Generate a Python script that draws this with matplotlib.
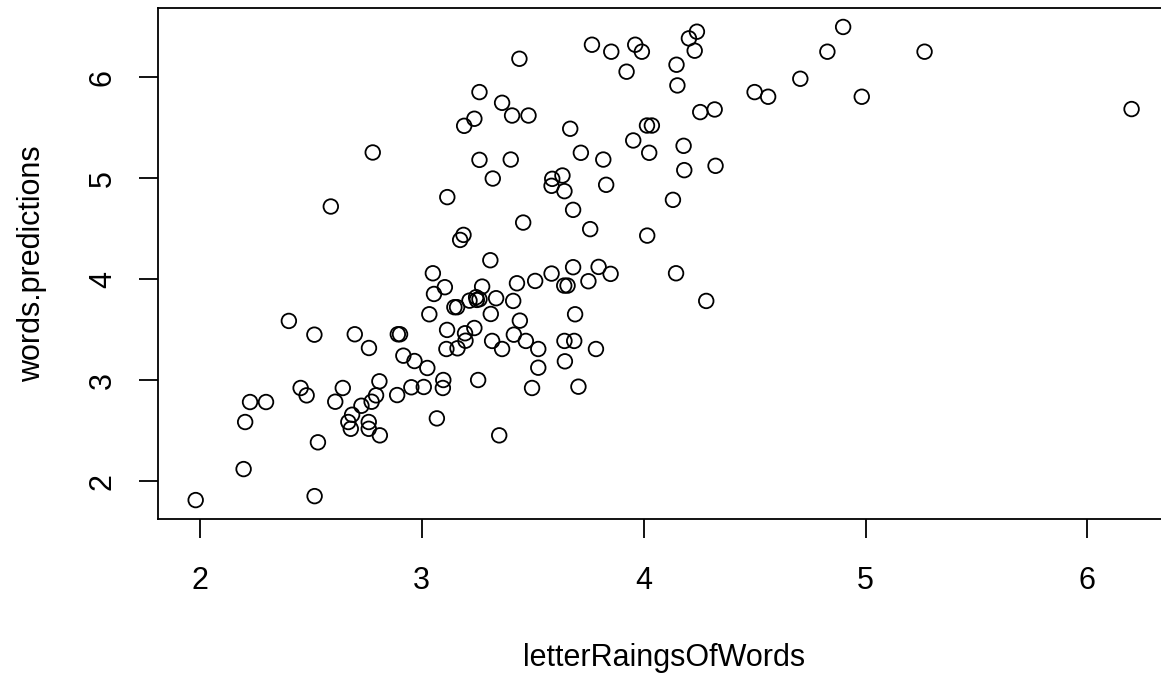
import matplotlib
matplotlib.use('Agg')
import matplotlib.pyplot as plt
import numpy as np

plt.rcParams['font.family'] = ['Liberation Sans', 'DejaVu Sans']

## values
letter_ratings = [
    3.260, 3.237, 3.191, 2.779, 3.260, 3.320, 3.115, 2.590, 3.188, 3.173, 3.309,
    3.440, 3.767, 3.854, 3.962, 3.992, 3.923, 4.240, 4.204, 4.230, 4.148, 4.152,
    4.500, 4.561, 4.255, 4.320, 3.362, 3.407, 3.481, 3.669, 4.015, 4.037, 3.953,
    4.025, 4.180, 4.183, 4.324, 3.717, 3.818, 3.401, 3.588, 3.634, 3.585, 3.643,
    3.831, 4.132, 3.682, 3.457, 3.759, 4.016,
    4.899, 4.828, 5.266, 4.706, 4.983, 6.199,
    1.981, 2.517, 2.197, 2.532, 2.204, 2.226, 2.298, 2.401, 2.516, 2.454, 2.481,
    2.610, 2.644, 2.698, 2.762, 2.669, 2.680, 2.686, 2.728, 2.761, 2.761, 2.774,
    2.794, 2.809, 2.811, 2.892, 2.902, 2.917, 2.967, 3.025, 2.889, 2.953, 3.009,
    3.068, 3.097, 3.095, 3.050, 3.104, 3.055, 3.034, 3.114, 3.111, 3.161, 3.197,
    3.195, 3.237, 3.254, 3.147, 3.159, 3.215, 3.245, 3.260, 3.248, 3.272,
    3.585, 3.682, 3.797, 3.851, 4.146, 4.282, 3.429, 3.511, 3.642, 3.657, 3.751,
    3.335, 3.412, 3.311, 3.442, 3.691, 3.317, 3.362, 3.415, 3.469, 3.525, 3.643,
    3.687, 3.785, 3.525, 3.645, 3.497, 3.706, 3.349,
]
word_predictions = [
    5.852, 5.588, 5.518, 5.254, 5.181, 4.996, 4.812, 4.719, 4.438, 4.388, 4.187,
    6.182, 6.321, 6.252, 6.321, 6.252, 6.054, 6.450, 6.384, 6.262, 6.123, 5.918,
    5.852, 5.806, 5.654, 5.680, 5.746, 5.620, 5.620, 5.489, 5.521, 5.521, 5.373,
    5.251, 5.320, 5.079, 5.122, 5.251, 5.184, 5.184, 4.993, 5.026, 4.924, 4.871,
    4.934, 4.785, 4.686, 4.560, 4.495, 4.431,
    6.497, 6.252, 6.252, 5.984, 5.806, 5.684,
    1.812, 1.851, 2.119, 2.384, 2.585, 2.783, 2.783, 3.586, 3.450, 2.922, 2.849,
    2.786, 2.922, 3.454, 3.318, 2.585, 2.518, 2.657, 2.746, 2.585, 2.518, 2.786,
    2.849, 2.988, 2.453, 3.454, 3.454, 3.242, 3.189, 3.120, 2.852, 2.929, 2.932,
    2.621, 3.001, 2.922, 4.058, 3.920, 3.853, 3.652, 3.497, 3.308, 3.315, 3.390,
    3.464, 3.516, 3.001, 3.722, 3.722, 3.787, 3.821, 3.801, 3.794, 3.926,
    4.055, 4.118, 4.121, 4.052, 4.058, 3.784, 3.959, 3.982, 3.936, 3.936, 3.979,
    3.811, 3.784, 3.655, 3.589, 3.652, 3.388, 3.308, 3.450, 3.388, 3.308, 3.388,
    3.388, 3.308, 3.123, 3.186, 2.922, 2.935, 2.453,
]
x_ticks = [2, 3, 4, 5, 6]
y_ticks = [2, 3, 4, 5, 6]

x = np.array(letter_ratings)
y = np.array(word_predictions)

fig = plt.figure(figsize=(11.61, 6.75), dpi=100)
## the plot box runs a little past the right edge, as in the reference
ax = fig.add_axes([0.1363, 0.2311, 0.8706, 0.757])

ax.scatter(x, y, s=110, facecolors='none', edgecolors='black', linewidths=1.3)

## R style limits: data range padded by 4% on each side
def r_lim(v):
    pad = (v.max() - v.min()) * 0.04
    return v.min() - pad, v.max() + pad

ax.set_xlim(*r_lim(x))
ax.set_ylim(*r_lim(y))
ax.set_xticks(x_ticks)
ax.set_yticks(y_ticks)

for sp in ax.spines.values():
    sp.set_linewidth(1.3)
    sp.set_color('black')

ax.tick_params(axis='both', length=14, width=1.3, labelsize=22, direction='out')
ax.tick_params(axis='x', pad=20)
ax.tick_params(axis='y', pad=15, labelrotation=90)
for lab in ax.get_yticklabels():
    lab.set_va('center')

ax.set_xlabel('letterRaingsOfWords', fontsize=22)
ax.set_ylabel('words.predictions', fontsize=22)
ax.xaxis.set_label_coords(0.5, -0.243)
ax.yaxis.set_label_coords(-0.110, 0.5)

fig.savefig('out.png', dpi=100)
